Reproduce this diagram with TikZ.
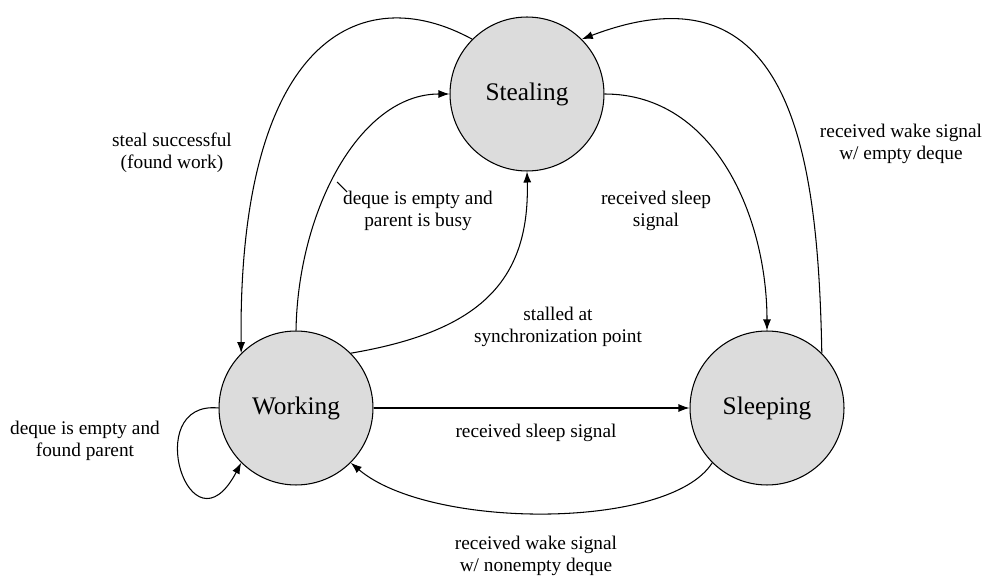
\documentclass[tikz,border=0pt]{standalone}
\usepackage{fontspec}
\setmainfont{Liberation Serif}
\usetikzlibrary{arrows.meta}
\definecolor{stategray}{RGB}{220,220,220}
\begin{document}
\begin{tikzpicture}[x=0.02cm, y=-0.02cm,
	state/.style={circle, draw, fill=stategray, minimum size=3.08cm, inner sep=0pt, font=\fontsize{14.4}{17}\selectfont},
	l/.style={font=\fontsize{11}{12.8}\selectfont, align=center},
	>={Latex[length=2.2mm, width=1.6mm]}, line width=0.6pt]
	\useasboundingbox (0,0) rectangle (984,577);

	\node[state] (steal) at (527,94) {Stealing};
	\node[state] (work) at (296,408) {Working};
	\node[state] (sleep) at (767,408) {Sleeping};

	\node[l] (lsucc) at (172,153) {steal successful\\(found work)};
	\node[l] (lbusy) at (418,211) {deque is empty and\\parent is busy};
	\node[l] (lstall) at (558,327) {stalled at\\synchronization point};
	\node[l] (lsleep1) at (656,211) {received sleep\\signal};
	\node[l] (lwake1) at (901,144) {received wake signal\\w/ empty deque};
	\node[l] (lsleep2) at (536,433) {received sleep signal};
	\node[l] (lwake2) at (536,556) {received wake signal\\w/ nonempty deque};
	\node[l] (lfound) at (85,441) {deque is empty and\\found parent};

	\draw[->] (steal.135) .. controls (360,-22) and (238,40) .. (work.135);
	\draw[->] (work.north) .. controls (298,210) and (360,94) .. (steal.west);
	\coordinate (tick) at (337,182);
	\draw (tick) -- ++(10,10);
	\draw[->] (work.45) .. controls (475,332) and (530,285) .. (steal.south);
	\draw[->] (steal.east) .. controls (716,94) and (767,219) .. (sleep.north);
	\draw[->] (sleep.45) .. controls (818,150) and (790,-40) .. (steal.45);
	\draw[->] (work.east) -- (sleep.west);
	\draw[->] (sleep.225) .. controls (670,530) and (430,530) .. (work.-45);
	\draw[->] (work.west) .. controls (140,400) and (190,560) .. (work.225);
\end{tikzpicture}
\end{document}
